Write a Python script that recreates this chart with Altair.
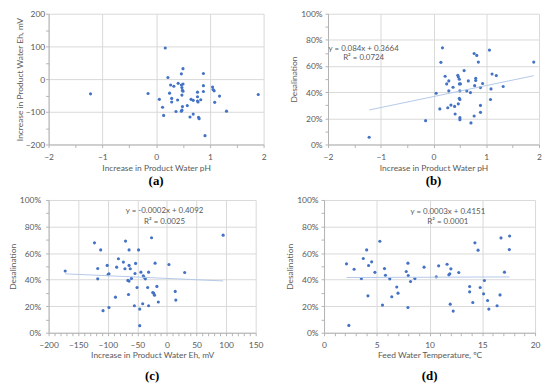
import altair as alt
import pandas as pd

# ---------------- data ----------------
# (a) Increase in product water pH vs increase in product water Eh (mV)
a_ph = [-1.22, -0.15, 0.06, 0.12, 0.14, 0.17, 0.22, 0.25, 0.27, 0.29, 0.29, 0.33, 0.37, 0.40, 0.41,
        0.47, 0.47, 0.50, 0.48, 0.49, 0.50, 0.48, 0.49, 0.48, 0.47, 0.50, 0.58, 0.63, 0.65, 0.69,
        0.69, 0.77, 0.77, 0.77, 0.78, 0.79, 0.80, 0.83, 0.88, 0.88, 0.88, 0.91, 1.05, 1.06, 1.08,
        1.09, 1.18, 1.31, 1.90]
a_eh = [-45, -44, -62, -86, -111, 95, 5, -43, -18, -59, -70, -22, -99, -64, -13,
        16, -18, 32, -26, -34, -15, -49, -84, -95, -98, -37, -81, -116, -62, -107,
        -65, -40, -54, -67, -70, -117, -121, -63, 17, -20, -38, -173, -24, -32, -36,
        -71, -52, -98, -47]

# (b) Increase in product water pH vs desalination
b_ph = [-1.22, -0.15, 0.05, 0.12, 0.14, 0.17, 0.22, 0.25, 0.27, 0.29, 0.29, 0.33, 0.37, 0.40, 0.41,
        0.46, 0.47, 0.47, 0.49, 0.49, 0.51, 0.50, 0.49, 0.50, 0.50, 0.50, 0.58, 0.63, 0.66, 0.70,
        0.71, 0.77, 0.82, 0.77, 0.78, 0.80, 0.80, 0.85, 0.89, 0.89, 0.89, 0.93, 1.06, 1.09, 1.08,
        1.11, 1.19, 1.32, 1.90]
b_des = [0.055, 0.182, 0.392, 0.272, 0.628, 0.739, 0.522, 0.463, 0.281, 0.486, 0.410, 0.301, 0.438, 0.291, 0.233,
         0.529, 0.516, 0.311, 0.463, 0.499, 0.463, 0.410, 0.354, 0.344, 0.205, 0.190, 0.565, 0.410, 0.486, 0.397,
         0.165, 0.696, 0.681, 0.218, 0.450, 0.506, 0.489, 0.630, 0.435, 0.299, 0.246, 0.466, 0.722, 0.425, 0.344,
         0.539, 0.527, 0.443, 0.630]

# (c) Increase in product water Eh (mV) vs desalination
c_eh = [-122.5, -112, -70, -64, -48, -26, -82, -73.6, -101, -85, -64, -62, -71, -53, -20, 3.4, -117,
        -99.4, -98, -54, -44, -31, -40, -39, -36.5, -117, -66, -64, -60, 30, -17, -50.5, -32.6,
        -24, -22.5, -21, 14, 15, -14.6, -65, -87, -55, -41, -31, -46, -98, -108, -46, -172, 95]
c_des = [0.677, 0.624, 0.690, 0.624, 0.624, 0.715, 0.557, 0.532, 0.507, 0.494, 0.507, 0.482, 0.482, 0.522, 0.524, 0.514, 0.484,
         0.439, 0.444, 0.446, 0.456, 0.456, 0.429, 0.419, 0.406, 0.406, 0.394, 0.389, 0.409, 0.454, 0.349, 0.341, 0.341,
         0.303, 0.298, 0.283, 0.311, 0.246, 0.231, 0.288, 0.268, 0.203, 0.218, 0.203, 0.178, 0.190, 0.166, 0.053, 0.465, 0.735]

# (d) Feed water temperature (degC) vs desalination
d_temp = [5.29, 4.04, 3.72, 4.51, 2.13, 4.22, 2.85, 5.73, 4.82, 5.82, 7.95, 7.79, 7.98, 6.23, 3.54, 8.20, 8.61,
          9.48, 6.89, 7.01, 4.16, 6.42, 5.54, 7.95, 2.35,
          14.3, 14.6, 16.77, 17.59, 17.56, 10.86, 11.66, 12.02, 11.92, 11.83, 12.77, 10.64, 17.1, 15.2,
          13.8, 14.8, 13.8, 15.12, 16.68, 14.1, 15.5, 16.4, 11.96, 15.62, 12.24]
d_des = [0.689, 0.624, 0.559, 0.534, 0.519, 0.506, 0.478, 0.483, 0.455, 0.433, 0.524, 0.461, 0.431, 0.406, 0.408, 0.386, 0.408,
         0.494, 0.344, 0.298, 0.278, 0.271, 0.208, 0.190, 0.055,
         0.677, 0.622, 0.714, 0.729, 0.626, 0.504, 0.516, 0.481, 0.444, 0.436, 0.454, 0.421, 0.456, 0.393,
         0.348, 0.341, 0.308, 0.293, 0.285, 0.228, 0.243, 0.203, 0.215, 0.178, 0.163]

# trendline coefficients and equation labels
b_fit = (0.084, 0.3664)
c_fit = (-0.0002, 0.4092)
d_fit = (0.0003, 0.4151)
b_eq = ["y = 0.084x + 0.3664", "R² = 0.0724"]
c_eq = ["y = -0.0002x + 0.4092", "R² = 0.0025"]
d_eq = ["y = 0.0003x + 0.4151", "R² = 0.0001"]

# tick values (major labelled, minor unlabelled)
ph_ticks = [-2, -1.5, -1, -0.5, 0, 0.5, 1, 1.5, 2]
eh_ticks_a = [-200, -150, -100, -50, 0, 50, 100, 150, 200]
pct_ticks = [0, 0.1, 0.2, 0.3, 0.4, 0.5, 0.6, 0.7, 0.8, 0.9, 1.0]
eh_ticks_c = list(range(-200, 151, 10))
temp_ticks = list(range(0, 21, 1))

FONT = "Lato"
TXT = "#595959"
GRID = "#d9d9d9"
AXIS = "#b3b3b3"
PT = "#4472C4"
TREND = "#b4c8e8"


def axis(title, values, test, fmt=".0f", label_pad=2, title_pad=2, tick=3):
    kw = dict(
        title=title, values=values, grid=True, format=fmt,
        gridColor=GRID, gridWidth=1,
        gridOpacity={"condition": {"test": test, "value": 1}, "value": 0},
        labelExpr=f"({test}) ? datum.label : ''",
        labelOverlap=False, labelFont=FONT, labelFontSize=8.5, labelColor=TXT,
        labelPadding=label_pad, titleFont=FONT, titleFontSize=8.5, titleFontWeight="normal",
        titleColor=TXT, titlePadding=title_pad, tickSize=tick, tickColor=AXIS,
        domainColor=AXIS, domainWidth=1, labelFlush=False,
    )
    return alt.Axis(**kw)


def panel(xs, ys, xdom, ydom, xax, yax, w, h, cap, cap_offset, fit=None, eq=None, eq_pos=None):
    xsc = alt.Scale(domain=xdom, nice=False, zero=False)
    ysc = alt.Scale(domain=ydom, nice=False, zero=False)
    df = pd.DataFrame({"x": xs, "y": ys})
    pts = alt.Chart(df).mark_circle(size=10, color=PT, opacity=1).encode(
        x=alt.X("x:Q", scale=xsc, axis=xax),
        y=alt.Y("y:Q", scale=ysc, axis=yax),
    )
    layers = [pts]
    if fit is not None:
        tx = [min(xs), max(xs)]
        tdf = pd.DataFrame({"x": tx, "y": [fit[0] * v + fit[1] for v in tx]})
        layers.append(alt.Chart(tdf).mark_line(color=TREND, strokeWidth=1).encode(
            x=alt.X("x:Q", scale=xsc, axis=xax),
            y=alt.Y("y:Q", scale=ysc, axis=yax)))
    if eq is not None:
        for txt, py in zip(eq, eq_pos[1:]):
            edf = pd.DataFrame({"t": [txt]})
            layers.append(alt.Chart(edf).mark_text(font=FONT, fontSize=8, color=TXT, align="center",
                                                   baseline="middle").encode(
                x=alt.value(eq_pos[0]), y=alt.value(py), text="t:N"))
    return alt.layer(*layers).properties(
        width=w, height=h,
        title=alt.TitleParams(cap, orient="bottom", font="Liberation Serif", fontWeight="bold",
                              fontSize=13, color="#000000", offset=cap_offset, anchor="middle"),
    )


pa = panel(a_ph, a_eh, [-2, 2], [-200, 200],
           axis("Increase in Product Water pH", ph_ticks, "abs(datum.value - round(datum.value)) < 0.001",
                label_pad=5, title_pad=3),
           axis("Increase in Product Water Eh, mV", eh_ticks_a, "datum.value % 100 === 0",
                label_pad=1, title_pad=1),
           217, 132, "(a)", 3)

pb = panel(b_ph, b_des, [-2, 2], [0, 1],
           axis("Increase in Product Water pH", ph_ticks, "abs(datum.value - round(datum.value)) < 0.001",
                label_pad=5, title_pad=3),
           axis("Desalination", pct_ticks, "abs(datum.value * 5 - round(datum.value * 5)) < 0.001",
                fmt=".0%", label_pad=3, title_pad=2),
           213, 132, "(b)", 3, fit=b_fit, eq=b_eq, eq_pos=(36, 36, 45))

pc = panel(c_eh, c_des, [-200, 150], [0, 1],
           axis("Increase in Product Water Eh, mV", eh_ticks_c, "datum.value % 50 === 0",
                label_pad=5, title_pad=2),
           axis("Desalination", pct_ticks, "abs(datum.value * 5 - round(datum.value * 5)) < 0.001",
                fmt=".0%", label_pad=5, title_pad=2),
           209, 134, "(c)", 11, fit=c_fit, eq=c_eq, eq_pos=(117, 11, 22))

pd_ = panel(d_temp, d_des, [0, 20], [0, 1],
            axis("Feed Water Temperature, ºC", temp_ticks, "datum.value % 5 === 0",
                 label_pad=5, title_pad=2),
            axis("Desalination", pct_ticks, "abs(datum.value * 5 - round(datum.value * 5)) < 0.001",
                 fmt=".0%", label_pad=3, title_pad=2),
            213, 134, "(d)", 11, fit=d_fit, eq=d_eq, eq_pos=(125, 12, 22))

row1 = alt.hconcat(pa, pb, spacing=23)
row2 = alt.hconcat(pc, pd_, spacing=22)
chart = alt.vconcat(row1, row2, spacing=8).properties(
    padding={"left": 0, "top": 0, "right": 0, "bottom": 0},
    background="white",
).configure_view(stroke=None)

chart.save("out.html", embed_options={"renderer": "svg", "actions": False})
